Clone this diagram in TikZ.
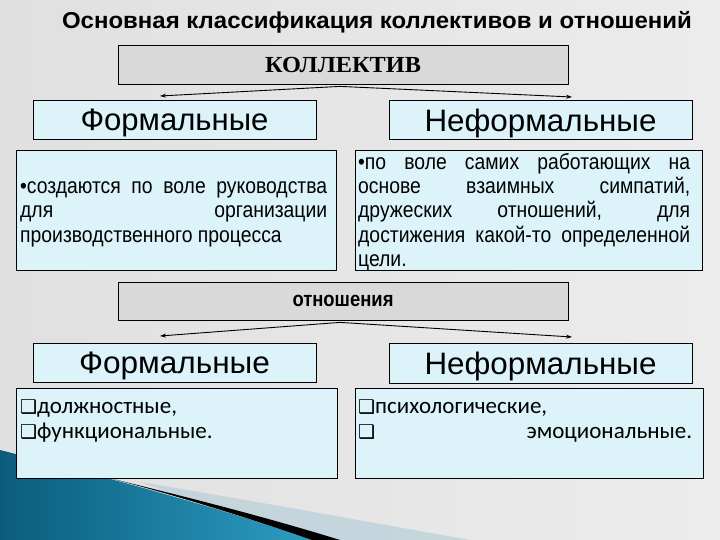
\documentclass[tikz,border=0pt]{standalone}
\usepackage{fontspec}
\usepackage{graphicx}
\setmainfont{Liberation Sans}
\newfontfamily\serifb{Liberation Serif}
\newfontfamily\narrowf[FakeStretch=0.88]{Liberation Sans}
\newfontfamily\dv{DejaVu Sans}
\newfontfamily\calib{Carlito}
\usetikzlibrary{arrows.meta}
\definecolor{boxcyan}{HTML}{DCF3F9}
\definecolor{boxgray}{HTML}{D9D9D9}
\definecolor{bgA}{HTML}{E0E0E0}
\definecolor{bgB}{HTML}{F4F4F4}
\definecolor{bgC}{HTML}{ECECEC}
\definecolor{blueA}{HTML}{0B5C7C}
\definecolor{blueB}{HTML}{2C9DC2}
\definecolor{glowc}{HTML}{B8CFDA}
\newsavebox\fitsave
\newcommand\fitx[2]{\sbox\fitsave{#2}\pgfmathsetmacro\fitfac{#1/\wd\fitsave}\scalebox{\fitfac}[1]{\usebox\fitsave}}
\newcommand\qb{{\dv\fontsize{19}{19}\selectfont ❑}}
\tikzset{
  graybox/.style={draw=black, line width=0.8pt, fill=boxgray, inner sep=0pt},
  cyanbox/.style={draw=black, line width=0.8pt, fill=boxcyan, inner sep=0pt},
  bigtxt/.style={inner sep=0pt, yshift=-3pt},
  arr/.style={line width=0.9pt, -{Stealth[length=6pt,width=4pt]}},
  txt/.style={inner sep=0pt, anchor=base west},
}
\begin{document}
\begin{tikzpicture}[x=1pt,y=-1pt]
\useasboundingbox (0,0) rectangle (720,540);
% background
\shade[left color=bgA, middle color=bgB, right color=bgC] (0,0) rectangle (720,540);
% swoosh
\fill[glowc, opacity=0.7] (140,482) .. controls (260,502) and (380,524) .. (470,540) -- (300,540) -- cycle;
\shade[shading angle=60, left color=blueA, right color=blueB] (0,450) .. controls (110,478) and (220,508) .. (312,540) -- (0,540) -- cycle;
\fill[black] (60,466) .. controls (150,488) and (250,512) .. (340,540) -- (312,540) .. controls (220,508) and (130,482) .. (60,466) -- cycle;

% title
\node[inner sep=0pt] (title) at (377,22) {\fitx{630}{\fontsize{23}{26}\selectfont\bfseries Основная классификация коллективов и отношений}};

% KOLLEKTIV
\node[graybox, minimum width=450pt, minimum height=39pt] (koll) at (343,64.5) {};
\node[inner sep=0pt] (kollt) at (koll.center) {\fitx{156}{\serifb\bfseries\fontsize{23}{26}\selectfont КОЛЛЕКТИВ}};
\coordinate (kl) at (160,96);
\coordinate (kr) at (572,97);
\draw[arr] (koll.south) ++(-3,2) coordinate (ka) -- (kl);
\draw[arr] (ka) -- (kr);

\node[cyanbox, minimum width=283pt, minimum height=39pt] (f1) at (174.5,120) {};
\node[bigtxt] (f1t) at (f1.center) {\fitx{188}{\fontsize{31}{34}\selectfont Формальные}};
\node[cyanbox, minimum width=303pt, minimum height=39pt] (n1) at (540.5,120) {};
\node[bigtxt] (n1t) at (n1.center) {\fitx{232}{\fontsize{31}{34}\selectfont Неформальные}};

\node[cyanbox, minimum width=320pt, minimum height=120pt] (t1) at (176,210) {};
\node[cyanbox, minimum width=347pt, minimum height=120pt] (t2) at (528.5,210) {};

\begin{scope}[every node/.style={txt, font=\narrowf\fontsize{22}{24}\selectfont}]
\node (l1a) at (20,194) {\makebox[307pt][s]{•создаются по воле руководства}};
\node (l1b) at (20,218) {\makebox[307pt][s]{для организации}};
\node (l1c) at (20,242) {производственного процесса};
\node (r1a) at (358,170) {\makebox[332pt][s]{•по воле самих работающих на}};
\node (r1b) at (358,194) {\makebox[332pt][s]{основе взаимных симпатий,}};
\node (r1c) at (358,218) {\makebox[332pt][s]{дружеских отношений, для}};
\node (r1d) at (358,242) {\makebox[332pt][s]{достижения какой-то определенной}};
\node (r1e) at (358,266) {цели.};
\end{scope}

% relations
\node[graybox, minimum width=450pt, minimum height=38pt] (otn) at (343,301) {};
\node[inner sep=0pt] (otnt) at (otn.center) {\fitx{101}{\fontsize{21}{24}\selectfont\bfseries отношения}};
\coordinate (ol) at (160,336);
\coordinate (or) at (572,337);
\draw[arr] (otn.south) ++(-3,2) coordinate (oa) -- (ol);
\draw[arr] (oa) -- (or);

\node[cyanbox, minimum width=283pt, minimum height=39pt] (f2) at (174.5,362.5) {};
\node[bigtxt] (f2t) at (f2.center) {\fitx{191}{\fontsize{31}{34}\selectfont Формальные}};
\node[cyanbox, minimum width=303pt, minimum height=40pt] (n2) at (540.5,363) {};
\node[bigtxt] (n2t) at (n2.center) {\fitx{232}{\fontsize{31}{34}\selectfont Неформальные}};

\node[cyanbox, minimum width=321pt, minimum height=90pt] (t3) at (176.5,433) {};
\node[cyanbox, minimum width=348pt, minimum height=90pt] (t4) at (529,433) {};

\begin{scope}[every node/.style={txt, font=\calib\fontsize{23}{25}\selectfont}]
\node (l2a) at (20,413) {\qb должностные,};
\node (l2b) at (20,438) {\qb функциональные.};
\node (r2a) at (358,413) {\qb психологические,};
\node (r2b) at (358,438) {\makebox[334pt]{\qb\hfill эмоциональные.}};
\end{scope}
\end{tikzpicture}
\end{document}
